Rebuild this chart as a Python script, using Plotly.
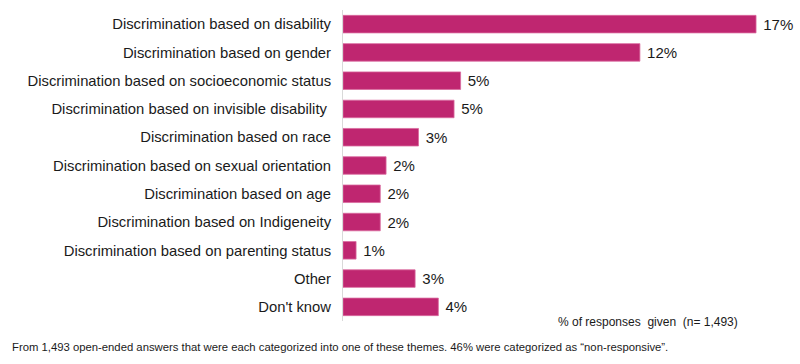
import plotly.graph_objects as go

categories = [
    "Discrimination based on disability",
    "Discrimination based on gender",
    "Discrimination based on socioeconomic status",
    "Discrimination based on invisible disability\u00a0",
    "Discrimination based on race",
    "Discrimination based on sexual orientation",
    "Discrimination based on age",
    "Discrimination based on Indigeneity",
    "Discrimination based on parenting status",
    "Other",
    "Don't know",
]
values = [17.07, 12.27, 4.86, 4.59, 3.12, 1.78, 1.54, 1.54, 0.54, 2.98, 3.94]
value_labels = ["17%", "12%", "5%", "5%", "3%", "2%", "2%", "2%", "1%", "3%", "4%"]

bar_color = "#BF2670"
font_family = "Liberation Sans, Arial, sans-serif"

fig = go.Figure(
    go.Bar(
        x=values,
        y=categories,
        orientation="h",
        marker=dict(color=bar_color, line=dict(color="#D96A9E", width=0.8)),
        text=["\u00a0" + t for t in value_labels],
        textposition="outside",
        textfont=dict(size=15, color="#1a1a1a", family=font_family),
        cliponaxis=False,
        width=0.62,
        hoverinfo="skip",
    )
)

fig.update_layout(
    width=800,
    height=364,
    margin=dict(l=343, r=20, t=10, b=43, autoexpand=False),
    paper_bgcolor="white",
    plot_bgcolor="white",
    showlegend=False,
    font=dict(family=font_family, color="#1a1a1a"),
    xaxis=dict(
        range=[0, 18.06],
        showgrid=False,
        zeroline=False,
        showticklabels=False,
        showline=False,
        fixedrange=True,
        automargin=False,
    ),
    yaxis=dict(
        autorange="reversed",
        showgrid=False,
        zeroline=False,
        showline=True,
        linecolor="#d9d9d9",
        linewidth=1,
        ticks="",
        ticklabelstandoff=8,
        automargin=False,
        fixedrange=True,
        tickfont=dict(size=14.8, color="#1a1a1a", family=font_family),
    ),
    annotations=[
        dict(
            text="% of responses  given  (n= 1,493)",
            xref="paper", yref="paper",
            x=(740 - 343) / 437, y=(364 - 43 - 322) / 311,
            xanchor="right", yanchor="middle",
            showarrow=False,
            font=dict(size=12, color="#1a1a1a", family=font_family),
        ),
        dict(
            text="From 1,493 open-ended answers that were each categorized into one of these themes. 46% were categorized as \u201cnon-responsive\u201d.",
            xref="paper", yref="paper",
            x=-333 / 437, y=(321 - 347) / 311,
            xanchor="left", yanchor="middle",
            showarrow=False,
            font=dict(size=11.3, color="#1a1a1a", family=font_family),
        ),
    ],
)

fig.write_html(
    "out.html",
    config={"displayModeBar": False},
    post_script="document.body.style.margin='0';",
)
